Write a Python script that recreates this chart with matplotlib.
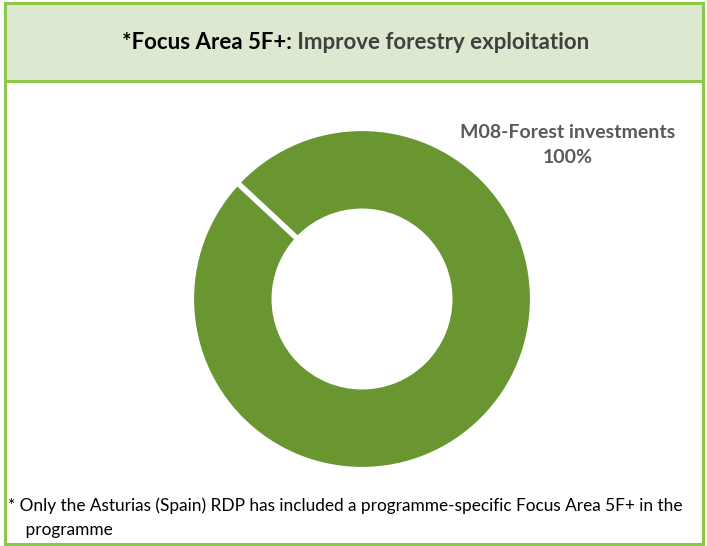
import numpy as np
import matplotlib
matplotlib.use("Agg")
import matplotlib.pyplot as plt
from matplotlib.patches import Rectangle

# data
categories = ["M08-Forest investments"]
shares = [100]
title_bold = "*Focus Area 5F+:"
title_rest = " Improve forestry exploitation"
footnote = ("* Only the Asturias (Spain) RDP has included a programme-specific Focus Area 5F+ in the\n"
            "    programme")

W, H = 707, 546
GREEN = "#6a9632"
BORDER = "#8cc84b"
HEAD_FILL = "#dde8d0"
FONT = "Lato"

fig = plt.figure(figsize=(W / 100, H / 100), dpi=100)
fig.patch.set_facecolor("white")

def px(x, y):
    # pixel coords (top-left origin) -> figure fraction
    return x / W, 1 - y / H

# outer frame
fig.patches.append(Rectangle(px(5, 544), 698 / W, 541 / H, transform=fig.transFigure,
                             facecolor="none", edgecolor=BORDER, lw=2.2, zorder=0))
# header box
fig.patches.append(Rectangle(px(5, 81), 698 / W, 78 / H, transform=fig.transFigure,
                             facecolor=HEAD_FILL, edgecolor=BORDER, lw=2.2, zorder=1))

# title in two colours
fig.canvas.draw()
r = fig.canvas.get_renderer()
t1 = fig.text(0, 0, title_bold, fontsize=16, fontweight="bold", family=FONT, color="black")
t2 = fig.text(0, 0, title_rest, fontsize=16, fontweight="bold", family=FONT, color="#404040")
w1 = t1.get_window_extent(r).width
w2 = t2.get_window_extent(r).width
x0 = (W - (w1 + w2)) / 2 + 2
yc = 1 - 43 / H
t1.set_position((x0 / W, yc)); t1.set_va("center")
t2.set_position(((x0 + w1) / W, yc)); t2.set_va("center")

# donut
cx, cy, rad = 362, 299, 170
ax = fig.add_axes([(cx - rad) / W, (H - cy - rad) / H, 2 * rad / W, 2 * rad / H])
wedges, _ = ax.pie(shares, colors=[GREEN], startangle=137, counterclock=False, radius=1,
                   wedgeprops=dict(width=0.48, edgecolor="white", linewidth=3))
# slice border at the start angle (a full ring has no radial edge of its own)
for w in wedges:
    a = np.deg2rad(w.theta2)
    rr = np.array([w.r - w.width, w.r])
    ax.plot(rr * np.cos(a), rr * np.sin(a), color="white", lw=4, solid_capstyle="butt")
ax.set_xlim(-1, 1)
ax.set_ylim(-1, 1)
ax.set_aspect("equal")
ax.axis("off")

# data label
fig.text(568 / W, 1 - 145 / H, f"{categories[0]}\n{shares[0]}%", ha="center", va="center",
         fontsize=14, fontweight="bold", family=FONT, color="#595959", linespacing=1.55)

# footnote
fig.text(8 / W, 1 - 518 / H, footnote, ha="left", va="center", fontsize=12.4,
         family=FONT, color="black", linespacing=1.6)

fig.savefig("out.png", dpi=100)
